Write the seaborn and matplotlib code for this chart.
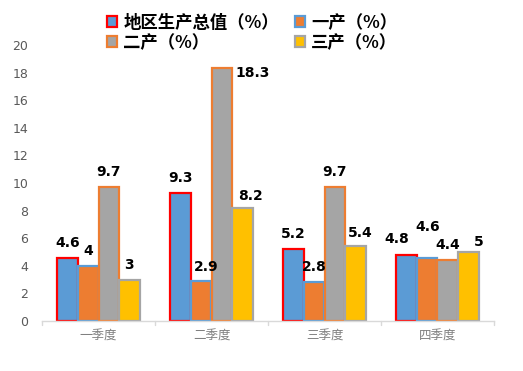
import matplotlib
matplotlib.use("Agg")
import matplotlib.pyplot as plt
import seaborn as sns
import pandas as pd
from matplotlib.patches import Patch

quarters = ["一季度", "二季度", "三季度", "四季度"]
series_names = ["地区生产总值（%）", "一产（%）", "二产（%）", "三产（%）"]
gdp = [4.6, 9.3, 5.2, 4.8]
primary = [4, 2.9, 2.8, 4.6]
secondary = [9.7, 18.3, 9.7, 4.4]
tertiary = [3, 8.2, 5.4, 5]
y_ticks = [0, 2, 4, 6, 8, 10, 12, 14, 16, 18, 20]

fills = ["#5B9BD5", "#ED7D31", "#A5A5A5", "#FFC000"]
edges = ["#FF0000", "#5B9BD5", "#ED7D31", "#A5A5A5"]

# label offsets (pixels) to mimic the original label placement
label_dx = [[0, 0, 0, -10], [0, 5, 0, 0], [0, 31, 0, 0], [0, 8, 5, 10]]
label_dy = [[0, 0, 0, 1], [0, -1, 0, 16], [0, -20, 0, 0], [0, -3, -2, -5]]

sns.set_theme(style="white")
plt.rcParams["font.family"] = ["DejaVu Sans", "Noto Sans CJK SC"]

rows = []
for name, vals in zip(series_names, [gdp, primary, secondary, tertiary]):
    for q, v in zip(quarters, vals):
        rows.append({"季度": q, "系列": name, "值": v})
df = pd.DataFrame(rows)

fig = plt.figure(figsize=(5.23, 3.71), dpi=100)
ax = fig.add_axes([42 / 523, 50 / 371, 452 / 523, 276 / 371])

sns.barplot(data=df, x="季度", y="值", hue="系列", hue_order=series_names,
            order=quarters, palette=fills, width=0.73, ax=ax, legend=False,
            saturation=1, errorbar=None)

for si, cont in enumerate(ax.containers):
    for gi, bar in enumerate(cont):
        bar.set_edgecolor(edges[si])
        bar.set_linewidth(1.6)
        h = bar.get_height()
        cx = bar.get_x() + bar.get_width() / 2
        txt = f"{h:g}"
        ax.annotate(txt, (cx, h), xytext=(label_dx[si][gi], 15 + label_dy[si][gi]),
                    textcoords="offset pixels", ha="center", va="center",
                    fontsize=10, fontweight="bold", color="black")

ax.set_ylim(0, 20)
ax.set_xlim(-0.5, 3.5)
ax.set_yticks(y_ticks)
ax.set_yticklabels([str(t) for t in y_ticks], fontsize=9, color="#595959")
ax.set_xticks(range(4))
ax.set_xticklabels(quarters, fontsize=9, color="#808080", family=["Noto Sans CJK SC"])
ax.tick_params(axis="x", length=0, pad=6)
ax.tick_params(axis="y", length=0, pad=10)
for b in [-0.5, 0.5, 1.5, 2.5, 3.5]:
    ax.plot([b, b], [0, -0.3], color="#D9D9D9", lw=1, clip_on=False)
ax.set_xlabel("")
ax.set_ylabel("")
for s in ["top", "right", "left"]:
    ax.spines[s].set_visible(False)
ax.spines["bottom"].set_color("#D9D9D9")
ax.spines["bottom"].set_linewidth(1)
ax.grid(False)

handles = [Patch(facecolor=f, edgecolor=e, linewidth=1.6) for f, e in zip(fills, edges)]
order = [0, 2, 1, 3]  # row-wise layout with 2 columns
fig.legend([handles[i] for i in order], [series_names[i] for i in order],
           loc="upper left", bbox_to_anchor=(107 / 523, 1 - 14 / 371),
           ncol=2, frameon=False, handlelength=0.6, handleheight=0.6,
           handletextpad=0.35, columnspacing=0.9, labelspacing=0.12,
           borderpad=0, borderaxespad=0, labelcolor="black",
           prop={"family": ["Noto Sans CJK SC"], "weight": "bold", "size": 12.5})

fig.savefig("out.png", dpi=100)
